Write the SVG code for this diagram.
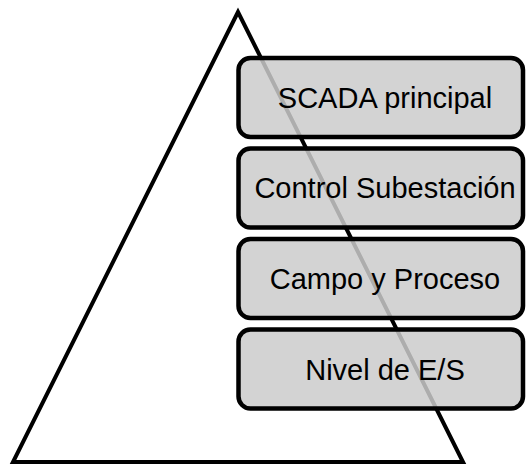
<svg xmlns="http://www.w3.org/2000/svg" width="527" height="464" viewBox="0 0 527 464">
<style>
.box{fill:#cbcbcb;fill-opacity:0.85;stroke:#000;stroke-width:4.5}
.lbl{font-family:"Liberation Sans",Arial,sans-serif;font-size:29px;fill:#000;text-anchor:middle}
</style>
<rect width="527" height="464" fill="#fff"/>
<g id="pyramid">
<polygon points="238,12 13,462 463,462" fill="none" stroke="#000" stroke-width="4" stroke-linejoin="miter"/>
</g>
<g id="connectors"></g>
<g id="scada">
<rect class="box" x="238.5" y="58" width="284.5" height="79" rx="12"/>
<text class="lbl" x="385" y="108">SCADA principal</text>
</g>
<g id="subestacion">
<rect class="box" x="238.5" y="148.5" width="284.5" height="79" rx="12"/>
<text class="lbl" x="385" y="198">Control Subestación</text>
</g>
<g id="campo">
<rect class="box" x="238.5" y="239" width="284.5" height="79" rx="12"/>
<text class="lbl" x="385" y="289">Campo y Proceso</text>
</g>
<g id="nivel">
<rect class="box" x="238.5" y="329.5" width="284.5" height="79" rx="12"/>
<text class="lbl" x="385" y="380">Nivel de E/S</text>
</g>
</svg>
